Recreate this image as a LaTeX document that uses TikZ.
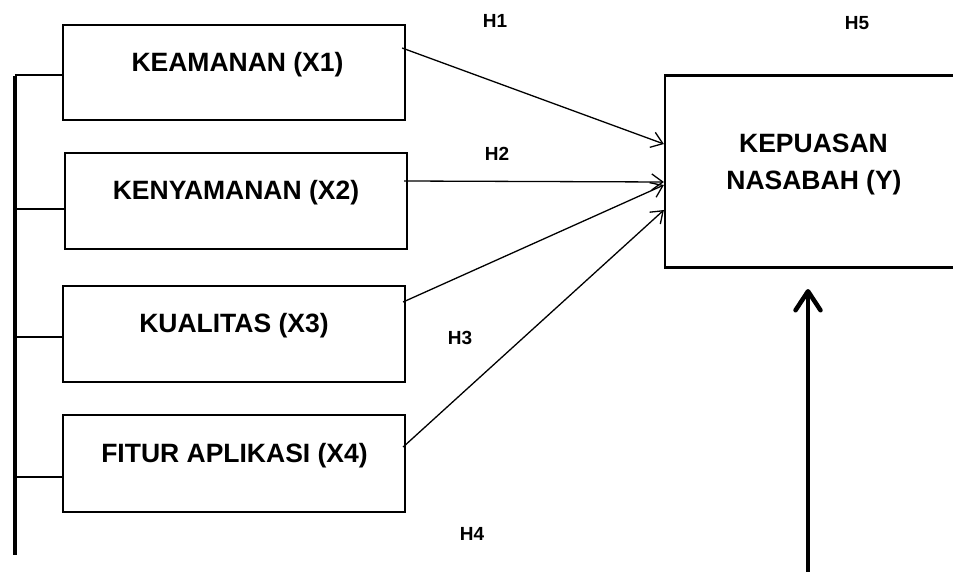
\documentclass[tikz,border=0pt]{standalone}
\usepackage{fontspec}
\setmainfont{Liberation Sans}
\usetikzlibrary{arrows.meta}
\begin{document}
\begin{tikzpicture}[x=1pt,y=-1pt,
  box/.style={draw=black,line width=2.2pt,rectangle,inner sep=0pt},
  boxtext/.style={anchor=base,font=\fontsize{26.5}{30}\selectfont\bfseries,inner sep=0pt},
  hlabel/.style={font=\fontsize{19}{22}\selectfont\bfseries,inner sep=0pt},
  path/.style={line width=1.3pt,-{Straight Barb[length=11pt,width=16pt,line width=1.3pt]}},
  branch/.style={line width=2pt},
  bar/.style={line width=4.5pt},
  bigarrow/.style={line width=4.5pt,-{Straight Barb[length=19pt,width=25pt,line width=4.5pt,line cap=round,line join=round]}}]
\useasboundingbox (0,0) rectangle (953,572);
\fill[white] (0,0) rectangle (953,572);
\clip (0,0) rectangle (953,572);

% boxes
\node[box,minimum width=342pt,minimum height=95pt] (x1) at (234,72.5) {};
\node[box,minimum width=342pt,minimum height=96pt] (x2) at (236,201) {};
\node[box,minimum width=342pt,minimum height=96pt] (x3) at (234,334) {};
\node[box,minimum width=342pt,minimum height=97pt] (x4) at (234,463.5) {};
\node[box,minimum width=300pt,minimum height=192pt] (y) at (815,171.5) {};

% box texts
\node[boxtext] (t1) at (237.5,72) {KEAMANAN (X1)};
\node[boxtext] (t2) at (236,200) {KENYAMANAN (X2)};
\node[boxtext] (t3) at (234,332) {KUALITAS (X3)};
\node[boxtext] (t4) at (234.5,462) {FITUR APLIKASI (X4)};
\node[boxtext] (ty1) at (813.5,153) {KEPUASAN};
\node[boxtext] (ty2) at (814,190) {NASABAH (Y)};

% hypothesis labels
\node[hlabel] (h1) at (495,21) {H1};
\node[hlabel] (h2) at (497,154) {H2};
\node[hlabel] (h3) at (460,338) {H3};
\node[hlabel] (h4) at (472,534) {H4};
\node[hlabel] (h5) at (857,23) {H5};

% arrows to Y
\draw[path] ([xshift=-4pt,yshift=24.5pt]x1.east) -- ([yshift=27.5pt]y.west);
\draw[path] ([xshift=-4pt,yshift=20pt]x2.east) -- ([yshift=-10.5pt]y.west);
\draw[path] ([xshift=-3pt,yshift=32pt]x3.east) -- ([yshift=-13.5pt]y.west);
\draw[path] ([xshift=-3pt,yshift=16.5pt]x4.east) -- ([yshift=-38.5pt]y.west);

% left bar and branches
\coordinate (bartop) at (15,76);
\coordinate (barbot) at (15,555);
\coordinate (b1) at (15,75.5);
\coordinate (b2) at (15,209);
\coordinate (b3) at (15,337);
\coordinate (b4) at (15,477);
\draw[bar] (bartop) -- (barbot);
\draw[branch] (b1) -- (b1 -| x1.west);
\draw[branch] (b2) -- (b2 -| x2.west);
\draw[branch] (b3) -- (b3 -| x3.west);
\draw[branch] (b4) -- (b4 -| x4.west);

% big upward arrow
\coordinate (ybot) at (808,572);
\coordinate (ytip) at (808,289);
\draw[bigarrow] (ybot) -- (ytip);
\end{tikzpicture}
\end{document}
